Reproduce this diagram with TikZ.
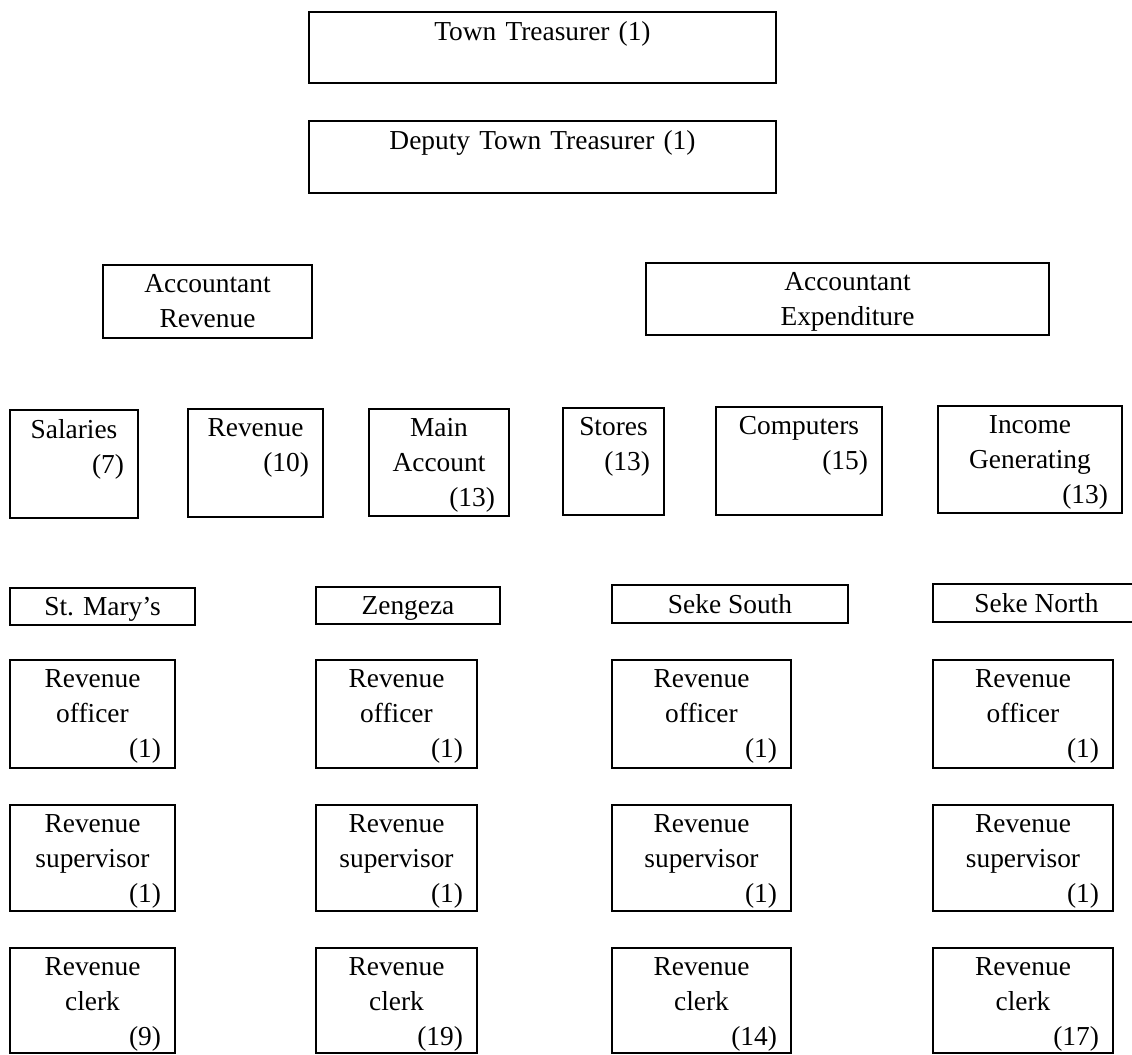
\documentclass[tikz,border=0pt]{standalone}
\usepackage{fontspec}
\setmainfont{Liberation Serif}
\usetikzlibrary{fit}

\tikzset{
  post/.style={draw, line width=0.9pt, rectangle, inner sep=0pt},
  posttext/.style={anchor=north, inner xsep=0pt, inner ysep=5pt, align=center,
    font=\fontsize{13.7}{17.5}\selectfont},
  sitetext/.style={anchor=base, inner sep=0pt, yshift=-4.5pt,
    font=\fontsize{13.7}{17.5}\selectfont}
}

% count flush right on its own line
\newcommand{\cnt}[1]{\leavevmode\hfill #1}

% box with text at the top: name, x1, y1, x2, y2, text
\newcommand{\postbox}[6]{%
  \path (#2,#3) coordinate (#1-a) (#4,#5) coordinate (#1-b);
  \node[post, fit=(#1-a)(#1-b)] (#1) {};
  \pgfmathsetmacro{\tw}{(#4-#2)*0.5-14}
  \node[posttext, text width=\tw pt] (#1-t) at (#1.north) {#6};
}

% box with one centred line: name, x1, y1, x2, y2, text
\newcommand{\sitebox}[6]{%
  \path (#2,#3) coordinate (#1-a) (#4,#5) coordinate (#1-b);
  \node[post, fit=(#1-a)(#1-b)] (#1) {};
  \node[sitetext] (#1-t) at (#1.center) {#6};
}

\begin{document}
\begin{tikzpicture}[x=0.5pt, y=-0.5pt]
\useasboundingbox (0,0) rectangle (1132,1055);

% top of the department
\postbox{tt}{309}{12}{776}{83}{Town Treasurer (1)}
\postbox{dtt}{309}{121}{776}{193}{Deputy Town Treasurer (1)}

\postbox{accrev}{103}{265}{312}{338}{Accountant\\Revenue}
\postbox{accexp}{646}{263}{1049}{335}{Accountant\\Expenditure}

% sections
\postbox{sal}{10}{410}{138}{518}{Salaries\\\cnt{(7)}}
\postbox{rev}{188}{409}{323}{517}{Revenue\\\cnt{(10)}}
\postbox{main}{369}{409}{509}{516}{Main\\Account\\\cnt{(13)}}
\postbox{stores}{563}{408}{664}{515}{Stores\\\cnt{(13)}}
\postbox{comp}{716}{407}{882}{515}{Computers\\\cnt{(15)}}
\postbox{inc}{938}{406}{1122}{513}{Income\\Generating\\\cnt{(13)}}

% district offices
\sitebox{stm}{10}{588}{195}{625}{St. Mary’s}
\sitebox{zen}{316}{587}{500}{624}{Zengeza}
\sitebox{sks}{612}{585}{848}{623}{Seke South}
\sitebox{skn}{933}{584}{1140}{622}{Seke North}

\foreach \n/\xa/\xb/\c in {stm/10/175/9, zen/316/477/19, sks/612/791/14, skn/933/1113/17}{
  \postbox{\n-off}{\xa}{660}{\xb}{768}{Revenue\\officer\\\cnt{(1)}}
  \postbox{\n-sup}{\xa}{805}{\xb}{911}{Revenue\\supervisor\\\cnt{(1)}}
  \postbox{\n-clk}{\xa}{948}{\xb}{1053}{Revenue\\clerk\\\cnt{(\c)}}
}
\end{tikzpicture}
\end{document}
